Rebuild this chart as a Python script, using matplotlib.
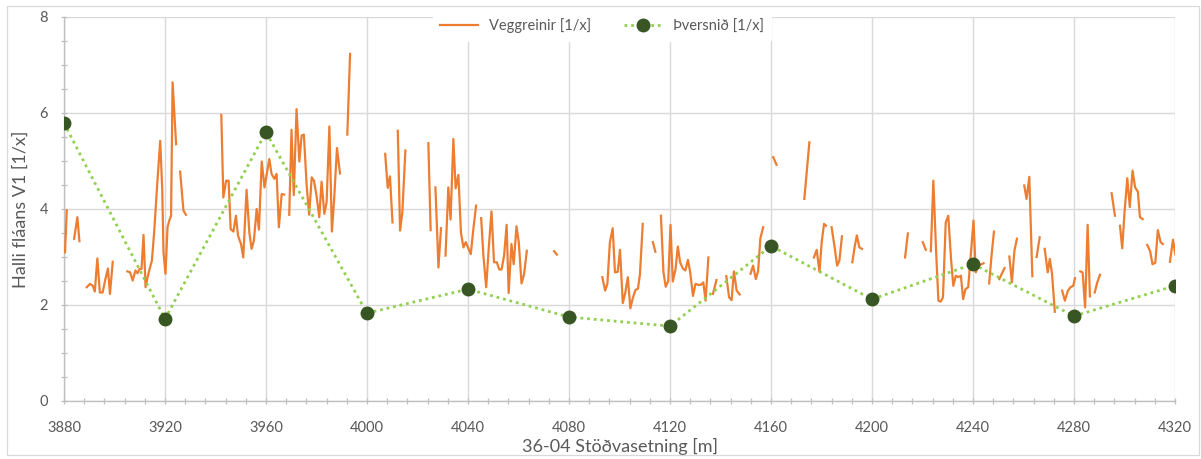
import matplotlib.pyplot as plt
import numpy as np
from matplotlib.patches import Rectangle
from matplotlib.ticker import MultipleLocator

nan = np.nan

# Veggreinir: slope read along the wall, nan marks a break in the readings
wall_x = [
    3880.4, 3881.1, nan,
    3884.0, 3885.3, 3886.1, nan,
    3889.0, 3890.3, 3891.4, 3892.2, 3893.2, 3894.2, 3895.3, 3896.4, 3897.4, 3898.2, 3899.3, nan,
    3905.1, 3906.2, 3907.2, 3908.3, 3909.1, 3909.9, 3910.7, 3911.5, 3912.3, 3913.1, 3913.9, 3914.8,
    3915.7, 3916.8, 3918.1, 3918.9, 3919.4, 3920.2, 3921.0, 3921.7, 3922.4, 3923.0, 3924.4, nan,
    3926.0, 3927.3, 3928.3, nan,
    3942.3, 3943.1, 3944.2, 3945.2, 3946.0, 3947.1, 3948.1, 3948.9, 3950.1, 3951.0, 3952.3, 3953.4,
    3954.3, 3955.2, 3956.3, 3957.2, 3958.3, 3959.4, 3961.3, 3962.2, 3963.3, 3964.2, 3965.1, 3966.2,
    3967.2, nan,
    3969.2, 3970.1, 3971.0, 3972.1, 3973.2, 3974.1, 3975.0, 3976.1, 3977.1, 3978.1, 3979.0, 3980.0,
    3981.1, 3982.0, 3983.1, 3984.0, 3985.1, 3986.1, 3987.0, 3988.1, 3989.3, nan,
    3992.2, 3993.3, nan,
    4007.2, 4008.2, 4009.1, 4010.1, nan,
    4012.2, 4013.1, 4014.0, 4015.2, nan,
    4024.3, 4025.2, nan,
    4027.1, 4028.3, 4029.3, nan,
    4031.1, 4032.2, 4033.1, 4034.2, 4035.1, 4036.2, 4037.2, 4038.2, 4039.1, 4040.2, 4041.1, 4042.2,
    4043.2, nan,
    4045.2, 4046.1, 4047.2, 4048.2, 4049.3, 4050.3, 4051.4, 4052.4, 4053.3, 4054.3, 4055.3, 4056.1,
    4057.2, 4058.1, 4059.2, 4060.1, 4061.2, 4062.2, 4063.3, nan,
    4074.1, 4075.2, nan,
    4093.2, 4094.3, 4095.2, 4096.2, 4097.3, 4098.2, 4099.3, 4100.2, 4101.3, 4102.3, 4103.3, 4104.3,
    4105.2, 4106.3, 4107.3, 4108.1, 4109.2, nan,
    4113.2, 4114.2, nan,
    4116.4, 4117.4, 4118.3, 4119.3, 4120.2, 4121.1, 4122.2, 4123.1, 4124.0, 4125.1, 4126.1, 4127.1,
    4128.0, 4129.1, 4130.1, 4131.2, 4132.2, 4133.2, 4134.1, 4135.2, nan,
    4137.0, 4138.4, nan,
    4142.3, 4143.4, 4144.4, 4145.3, 4146.4, 4147.6, nan,
    4151.9, 4152.9, 4154.0, 4154.9, 4155.8, 4156.9, nan,
    4160.9, 4162.2, nan,
    4173.2, 4174.2, 4175.2, nan,
    4177.0, 4178.1, 4179.2, 4180.1, 4181.0, 4181.8, nan,
    4184.0, 4185.1, 4186.2, 4187.1, 4188.1, nan,
    4192.2, 4193.1, 4194.0, 4195.0, 4196.0, nan,
    4213.1, 4214.2, nan,
    4220.1, 4221.3, nan,
    4223.3, 4224.3, 4225.4, 4226.3, 4227.2, 4228.1, 4229.2, 4230.2, 4231.3, 4232.2, 4233.2, 4234.1,
    4235.2, 4236.1, 4237.0, 4238.1, 4239.1, 4240.2, 4241.1, 4242.2, 4244.2, nan,
    4246.4, 4247.4, 4248.3, nan,
    4250.4, 4252.5, nan,
    4254.4, 4255.4, 4256.4, 4257.4, nan,
    4260.3, 4261.2, 4262.3, 4263.5, nan,
    4265.2, 4266.4, nan,
    4268.4, 4269.6, 4270.4, 4271.3, 4272.4, nan,
    4275.3, 4276.4, 4277.6, 4278.6, 4279.7, 4280.4, nan,
    4282.5, 4283.4, 4284.4, 4285.4, 4286.3, nan,
    4288.2, 4289.2, 4290.3, nan,
    4294.9, 4296.2, nan,
    4298.2, 4299.1, 4300.0, 4301.1, 4302.1, 4303.2, 4304.2, 4305.3, 4306.1, 4307.2, nan,
    4309.0, 4310.1, 4311.1, 4312.2, 4313.2, 4314.3, 4315.2, nan,
    4318.0, 4319.2, 4320.1,
]
wall_y = [
    3.10, 3.97, nan,
    3.38, 3.83, 3.33, nan,
    2.37, 2.44, 2.40, 2.28, 2.97, 2.26, 2.26, 2.54, 2.76, 2.23, 2.90, nan,
    2.70, 2.68, 2.51, 2.72, 2.66, 2.75, 2.75, 3.46, 2.37, 2.58, 2.75, 2.92,
    3.51, 4.42, 5.42, 4.42, 3.10, 2.65, 3.62, 3.76, 3.86, 6.64, 5.35, nan,
    4.78, 3.97, 3.88, nan,
    5.96, 4.24, 4.59, 4.59, 3.58, 3.53, 3.86, 3.45, 3.27, 2.99, 4.40, 3.51,
    3.17, 3.34, 4.00, 3.57, 4.99, 4.45, 5.04, 4.73, 4.63, 4.73, 3.62, 4.31,
    4.30, nan,
    3.88, 5.65, 4.29, 6.08, 4.99, 5.53, 5.55, 4.49, 3.88, 4.66, 4.59, 4.28,
    3.83, 4.57, 3.90, 4.14, 5.72, 3.53, 4.21, 5.27, 4.74, nan,
    5.55, 7.23, nan,
    5.15, 4.44, 4.68, 3.72, nan,
    5.63, 3.55, 3.93, 5.22, nan,
    5.37, 3.56, nan,
    4.45, 2.78, 3.60, nan,
    3.03, 4.45, 3.78, 5.46, 4.43, 4.71, 3.51, 3.20, 3.31, 3.17, 3.06, 3.62,
    4.07, nan,
    3.81, 3.03, 2.37, 3.17, 3.95, 2.89, 2.89, 2.74, 2.74, 3.03, 3.67, 2.25,
    3.27, 2.85, 3.64, 3.31, 2.45, 2.64, 3.13, nan,
    3.12, 3.05, nan,
    2.58, 2.30, 2.44, 3.31, 3.60, 2.68, 2.69, 3.15, 2.04, 2.26, 2.58, 1.93,
    2.13, 2.31, 2.34, 2.64, 3.69, nan,
    3.31, 3.11, nan,
    3.86, 2.69, 2.38, 2.50, 3.67, 2.49, 2.75, 3.22, 2.89, 2.76, 2.72, 2.94,
    2.68, 2.19, 2.44, 2.42, 2.42, 2.47, 2.09, 2.99, nan,
    2.23, 2.52, nan,
    2.60, 2.16, 2.10, 2.70, 2.30, 2.22, nan,
    2.65, 2.82, 2.54, 2.71, 3.39, 3.62, nan,
    5.08, 4.92, nan,
    4.21, 4.80, 5.39, nan,
    2.99, 3.15, 2.69, 3.32, 3.69, 3.65, nan,
    3.62, 3.24, 2.82, 2.93, 3.43, nan,
    2.89, 3.20, 3.45, 3.20, 3.17, nan,
    2.99, 3.49, nan,
    3.31, 3.15, nan,
    3.12, 4.59, 3.10, 2.09, 2.07, 2.16, 3.72, 3.86, 2.96, 2.40, 2.61, 2.58,
    2.61, 2.12, 2.33, 2.37, 3.03, 3.76, 2.68, 2.82, 2.87, nan,
    2.45, 3.06, 3.53, nan,
    2.54, 2.77, nan,
    3.01, 2.47, 3.13, 3.38, nan,
    4.49, 4.21, 4.67, 2.60, nan,
    3.00, 3.41, nan,
    3.17, 2.68, 2.96, 2.65, 1.86, nan,
    2.30, 2.09, 2.30, 2.37, 2.40, 2.56, nan,
    2.70, 2.68, 1.95, 3.67, 2.18, nan,
    2.26, 2.47, 2.63, nan,
    4.33, 3.86, nan,
    3.65, 3.18, 3.92, 4.64, 4.04, 4.80, 4.45, 4.36, 3.83, 3.79, nan,
    3.25, 3.13, 2.85, 2.88, 3.56, 3.31, 3.27, nan,
    2.90, 3.36, 3.06,
]

# Þversnið: one cross section every 40 m
section_x = [3880, 3920, 3960, 4000, 4040, 4080, 4120, 4160, 4200, 4240, 4280, 4320]
section_y = [5.79, 1.71, 5.60, 1.83, 2.33, 1.75, 1.56, 3.23, 2.12, 2.85, 1.77, 2.40]

W, H = 1201, 459
grey_text = "#595959"
grey_line = "#d9d9d9"
grey_axis = "#bfbfbf"

plt.rcParams["font.family"] = ["Lato", "DejaVu Sans"]

fig = plt.figure(figsize=(W / 100, H / 100), dpi=100)
fig.patches.append(Rectangle((7 / W, 4 / H), 1192 / W, 449 / H, transform=fig.transFigure,
                             fill=False, edgecolor=grey_line, linewidth=0.9))

ax = fig.add_axes([64 / W, 1 - 401 / H, (1175 - 64) / W, (401 - 17) / H])

ax.plot(wall_x, wall_y, color="#ED7D31", linewidth=1.6, label="Veggreinir [1/x]", zorder=3)
ax.plot(section_x, section_y, color="#92D050", linestyle=(0, (1, 1.4)), linewidth=2.0,
        marker="o", markersize=9, markerfacecolor="#375623", markeredgecolor="#375623",
        label="Þversnið [1/x]", zorder=4)

ax.set_xlim(3880, 4320)
ax.set_ylim(0, 8)
ax.xaxis.set_major_locator(MultipleLocator(40))
ax.xaxis.set_minor_locator(MultipleLocator(8))
ax.yaxis.set_major_locator(MultipleLocator(2))
ax.yaxis.set_minor_locator(MultipleLocator(0.5))

ax.grid(True, which="major", color=grey_line, linewidth=1.0)
ax.set_axisbelow(True)
for side in ["top", "right"]:
    ax.spines[side].set_visible(False)
for side in ["left", "bottom"]:
    ax.spines[side].set_color(grey_axis)
    ax.spines[side].set_linewidth(1.0)

ax.tick_params(which="both", direction="inout", length=5, width=0.9, color=grey_axis)
ax.tick_params(axis="both", labelsize=10.5, labelcolor=grey_text)
ax.tick_params(axis="x", pad=12)
ax.tick_params(axis="y", pad=9)

ax.set_xlabel("36-04 Stöðvasetning [m]", fontsize=13, color=grey_text, labelpad=2)
ax.set_ylabel("Halli fláans V1 [1/x]", fontsize=13, color=grey_text, labelpad=8)

leg = fig.legend(loc="center", bbox_to_anchor=(602 / W, 1 - 26 / H), ncol=2, frameon=True,
                 fontsize=10.5, handlelength=2.6, columnspacing=2.2, borderpad=0.5)
leg.get_frame().set_facecolor("white")
leg.get_frame().set_edgecolor("white")
leg.get_frame().set_alpha(1)
for t in leg.get_texts():
    t.set_color(grey_text)

fig.savefig("out.png", dpi=100)
